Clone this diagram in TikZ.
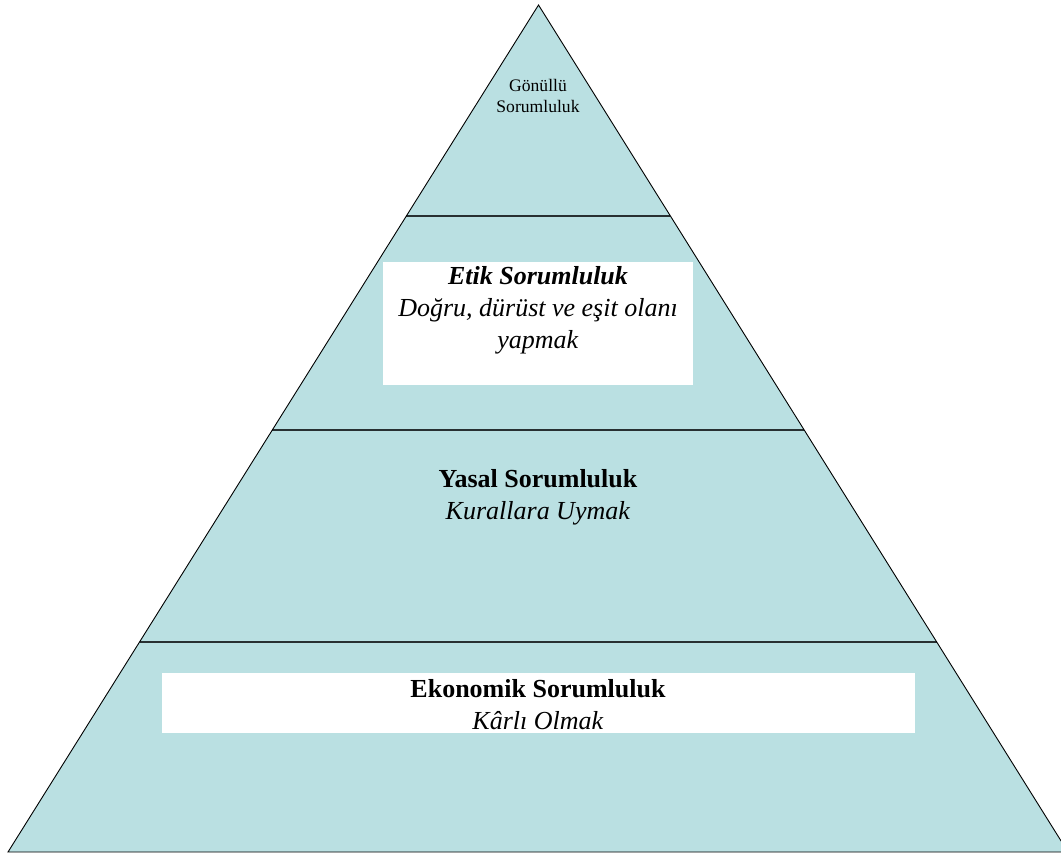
\documentclass[tikz,border=0pt]{standalone}
\usepackage{fontspec}
\setmainfont{Liberation Serif}
\setsansfont{Liberation Sans}
\usetikzlibrary{calc}
\definecolor{pyr}{RGB}{186,224,226}
\definecolor{divline}{RGB}{40,48,50}
\tikzset{
  level/.style={draw=divline, line width=1.6pt},
  whitebox/.style={fill=white, draw=none},
  bigtext/.style={align=center, font=\fontsize{26}{32}\selectfont, inner sep=0pt},
  smalltext/.style={align=center, font=\fontsize{17.6}{21}\selectfont, inner sep=0pt}
}
\begin{document}
\begin{tikzpicture}[x=1pt,y=-1pt]
\useasboundingbox (0,0) rectangle (1061,855);
\coordinate (apex) at (538.5,5);
\coordinate (bl) at (8,852);
\coordinate (br) at (1068,852);
\fill[pyr] (apex) -- (bl) -- (br) -- cycle;
% divisions
\coordinate (l1) at ($(apex)!0.2491!(bl)$);
\coordinate (r1) at ($(apex)!0.2491!(br)$);
\coordinate (l2) at ($(apex)!0.5018!(bl)$);
\coordinate (r2) at ($(apex)!0.5018!(br)$);
\coordinate (l3) at ($(apex)!0.7521!(bl)$);
\coordinate (r3) at ($(apex)!0.7521!(br)$);
% white boxes
\fill[whitebox] (383,262) rectangle (693,385);
\fill[whitebox] (162,673) rectangle (915,733);
\draw[level] (l1) -- (r1);
\draw[level] (l2) -- (r2);
\draw[level] (l3) -- (r3);
\draw[line width=0.9pt, line join=miter] (apex) -- (bl) -- (br) -- cycle;
% texts
\node[smalltext] (gonullu) at (538,96) {Gönüllü\\Sorumluluk};
\node[bigtext] (etik) at (538,310) {\textbf{\textit{Etik Sorumluluk}}\\\textit{Doğru, dürüst ve eşit olanı}\\\textit{yapmak}};
\node[bigtext] (yasal) at (538,497) {\textbf{Yasal Sorumluluk}\\\textit{Kurallara Uymak}};
\node[bigtext] (ekonomik) at (538,705) {\textbf{Ekonomik Sorumluluk}\\\textit{Kârlı Olmak}};
\end{tikzpicture}
\end{document}
